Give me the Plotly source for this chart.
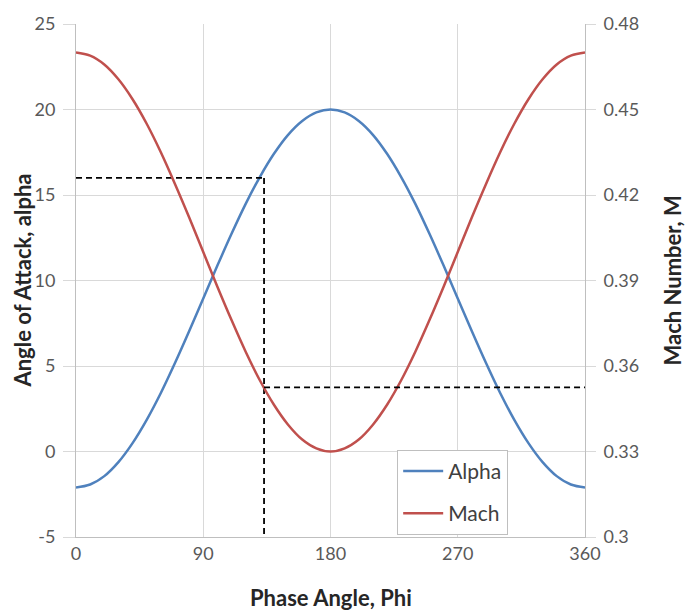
import plotly.graph_objects as go

# Data
phi = [0, 10, 20, 30, 40, 50, 60, 70, 80, 90, 100, 110, 120, 130, 140, 150, 160, 170, 180,
       190, 200, 210, 220, 230, 240, 250, 260, 270, 280, 290, 300, 310, 320, 330, 340, 350, 360]
alpha = [-2.1, -1.93, -1.44, -0.62, 0.49, 1.85, 3.42, 5.17, 7.03, 8.95, 10.87, 12.73, 14.48,
         16.05, 17.41, 18.52, 19.33, 19.83, 20.0,
         19.83, 19.33, 18.52, 17.41, 16.05, 14.48, 12.73, 10.87, 8.95, 7.03, 5.17, 3.42, 1.85,
         0.49, -0.62, -1.44, -1.93, -2.1]
mach = [0.470, 0.4689, 0.4658, 0.4606, 0.4536, 0.4450, 0.4350, 0.4239, 0.4122, 0.400,
        0.3878, 0.3761, 0.3650, 0.3550, 0.3464, 0.3394, 0.3342, 0.3311, 0.330,
        0.3311, 0.3342, 0.3394, 0.3464, 0.3550, 0.3650, 0.3761, 0.3878, 0.400, 0.4122,
        0.4239, 0.4350, 0.4450, 0.4536, 0.4606, 0.4658, 0.4689, 0.470]

# Reference (dashed) lines
ref_phi = 133
ref_alpha = 16
ref_mach = 0.3525

x_ticks = [0, 90, 180, 270, 360]
y_ticks = [-5, 0, 5, 10, 15, 20, 25]
y_labels = ["-5", "0", "5", "10", "15", "20", "25"]
y2_ticks = [0.3, 0.33, 0.36, 0.39, 0.42, 0.45, 0.48]
y2_labels = ["0.3", "0.33", "0.36", "0.39", "0.42", "0.45", "0.48"]

FONT = "Lato, 'Open Sans', sans-serif"
GRID = "#d9d9d9"
TICKC = "#595959"
TITLEC = "#262626"

fig = go.Figure()
fig.add_trace(go.Scatter(x=phi, y=alpha, name="Alpha", mode="lines", line_shape="spline",
                         legendgroup="a", line=dict(color="#4F81BD", width=2.5)))
fig.add_trace(go.Scatter(x=phi, y=mach, name="Mach", mode="lines", line_shape="spline",
                         legendgroup="m", yaxis="y2", line=dict(color="#C0504D", width=2.5)))

dash = dict(color="black", width=1.8, dash="6px,4px")
fig.add_trace(go.Scatter(x=[0, ref_phi], y=[ref_alpha, ref_alpha], mode="lines",
                         line=dash, showlegend=False, hoverinfo="skip"))
fig.add_trace(go.Scatter(x=[ref_phi, ref_phi], y=[ref_alpha, -5], mode="lines",
                         line=dash, showlegend=False, hoverinfo="skip"))
fig.add_trace(go.Scatter(x=[ref_phi, 360], y=[ref_mach, ref_mach], mode="lines", yaxis="y2",
                         line=dash, showlegend=False, hoverinfo="skip"))

title_font = dict(family=FONT, size=22, color=TITLEC)
fig.add_annotation(text="<b>Phase Angle, Phi</b>", xref="paper", yref="paper",
                   x=0.5, y=-0.118, xanchor="center", yanchor="middle",
                   showarrow=False, font=title_font)
fig.add_annotation(text="<b>Angle of Attack, alpha</b>", xref="paper", yref="paper",
                   x=-0.106, y=0.5, xanchor="center", yanchor="middle", textangle=-90,
                   showarrow=False, font=title_font)
fig.add_annotation(text="<b>Mach Number, M</b>", xref="paper", yref="paper",
                   x=1.171, y=0.5, xanchor="center", yanchor="middle", textangle=-90,
                   showarrow=False, font=title_font)

fig.update_layout(
    width=689, height=610,
    margin=dict(l=76, r=104, t=20, b=73),
    paper_bgcolor="white", plot_bgcolor="white",
    font=dict(family=FONT, size=18, color=TICKC),
    showlegend=True,
    legend=dict(x=0.631, y=0.17, xanchor="left", yanchor="top",
                bgcolor="white", bordercolor="#bfbfbf", borderwidth=1,
                font=dict(size=21, color="#404040"),
                itemwidth=40, tracegroupgap=12),
    xaxis=dict(range=[0, 360], tickvals=x_ticks, showgrid=True, gridcolor=GRID, gridwidth=1,
               showline=True, linecolor="#bfbfbf", zeroline=False,
               ticks="", ticklabelstandoff=0),
    yaxis=dict(range=[-5, 25], tickvals=y_ticks, ticktext=y_labels, showgrid=True,
               gridcolor=GRID, gridwidth=1,
               showline=True, linecolor="#bfbfbf", zeroline=False,
               ticks="outside", ticklen=12, tickcolor=GRID, ticklabelstandoff=4),
    yaxis2=dict(range=[0.3, 0.48], tickvals=y2_ticks, ticktext=y2_labels, overlaying="y",
                side="right", showgrid=False, showline=True, linecolor="#bfbfbf",
                zeroline=False, ticks="outside", ticklen=10, tickcolor=GRID,
                ticklabelstandoff=4),
)

fig.write_html("out.html")
